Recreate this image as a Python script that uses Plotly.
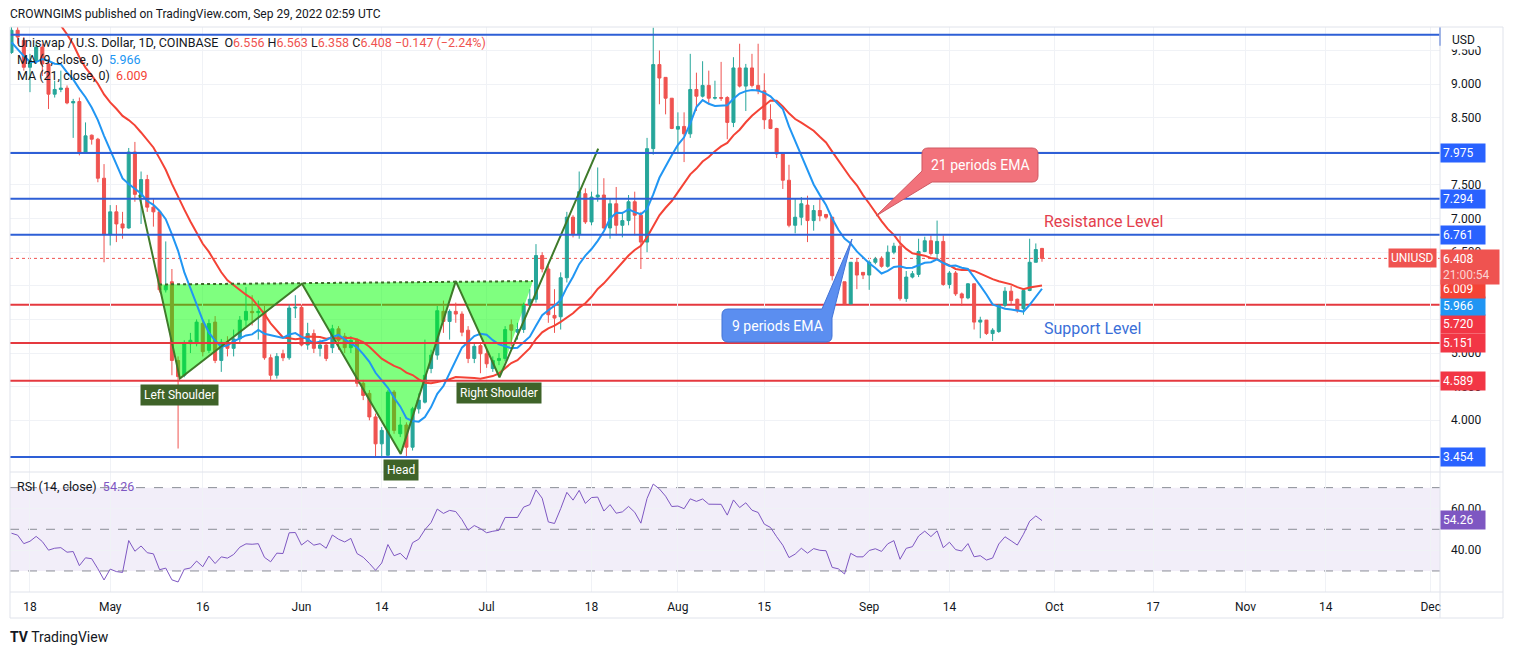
import numpy as np
import pandas as pd
import plotly.graph_objects as go

# ---------------- data ----------------
first_day = "2022-04-15"
opens = [9.47, 9.80, 9.65, 9.25, 9.35, 9.55, 9.30, 8.85, 8.92, 8.94, 8.72, 8.74, 7.99, 8.24, 8.18, 7.60,
         6.76, 7.10, 6.92, 6.86, 7.99, 7.33, 7.58, 7.17, 7.10, 5.94, 6.06, 4.89, 4.67, 5.14, 5.14, 5.44,
         5.04, 5.46, 4.89, 5.16, 5.07, 5.21, 5.49, 5.62, 5.60, 5.62, 4.93, 4.67, 4.99, 4.93, 5.67, 5.68,
         5.12, 5.29, 5.07, 5.12, 5.08, 5.36, 5.25, 5.08, 5.19, 4.55, 4.40, 4.05, 3.65, 3.48, 4.42, 3.80,
         3.93, 3.60, 4.17, 4.27, 4.77, 4.97, 5.62, 5.47, 5.62, 5.58, 5.34, 4.92, 5.11, 4.99, 4.77, 4.89,
         4.92, 5.42, 5.31, 5.35, 5.72, 5.80, 6.45, 6.25, 5.56, 5.54, 6.12, 7.02, 6.77, 7.37, 6.95, 7.32,
         7.35, 6.86, 7.22, 6.90, 6.97, 7.25, 7.05, 6.65, 8.04, 9.29, 9.10, 8.79, 8.33, 8.37, 8.26, 8.92,
         8.82, 8.98, 8.79, 8.80, 8.80, 8.43, 9.24, 8.97, 9.24, 8.98, 8.90, 8.47, 8.34, 7.96, 7.57, 6.90,
         7.02, 7.20, 6.97, 7.12, 7.06, 7.02, 6.15, 6.06, 5.73, 6.35, 6.20, 6.16, 6.35, 6.41, 6.29, 6.50,
         6.59, 5.81, 6.13, 6.17, 6.51, 6.67, 6.48, 6.66, 6.02, 6.19, 5.88, 5.82, 6.03, 5.46, 5.49, 5.29,
         5.32, 5.71, 5.92, 5.80, 5.66, 5.93, 6.35, 6.556]
highs = [9.90, 9.85, 9.70, 9.45, 9.62, 9.60, 9.35, 9.05, 9.20, 8.98, 8.78, 8.80, 8.43, 8.25, 8.20, 7.81,
         7.20, 7.20, 7.10, 8.05, 8.14, 7.70, 7.65, 7.30, 7.10, 6.66, 6.25, 4.95, 5.19, 5.30, 5.50, 5.48,
         5.50, 5.55, 5.21, 5.25, 5.35, 5.55, 5.98, 5.86, 5.78, 5.70, 4.98, 5.00, 5.05, 5.72, 5.86, 5.72,
         5.45, 5.35, 5.20, 5.15, 5.42, 5.40, 5.30, 5.25, 5.22, 4.60, 4.45, 4.10, 3.90, 4.45, 4.45, 4.05,
         3.97, 4.20, 4.40, 5.20, 5.05, 5.70, 5.78, 5.65, 5.75, 5.62, 5.40, 5.15, 5.15, 5.05, 4.95, 5.00,
         5.40, 5.50, 5.45, 5.75, 5.95, 6.62, 6.50, 6.30, 5.95, 6.20, 7.10, 7.05, 7.70, 7.45, 7.40, 7.76,
         7.60, 7.30, 7.47, 7.10, 7.35, 7.40, 7.10, 8.20, 9.84, 9.50, 9.10, 8.79, 8.58, 8.58, 9.45, 9.17,
         9.34, 9.20, 9.05, 9.33, 8.82, 9.40, 9.60, 9.30, 9.45, 9.60, 9.16, 8.70, 8.35, 7.96, 7.80, 7.30,
         7.32, 7.34, 7.20, 7.30, 7.07, 7.02, 6.20, 6.06, 6.35, 6.40, 6.20, 6.38, 6.43, 6.44, 6.60, 6.64,
         6.74, 6.22, 6.22, 6.70, 6.73, 6.75, 6.97, 6.75, 6.22, 6.22, 5.90, 6.04, 6.03, 5.54, 5.49, 5.37,
         5.73, 5.98, 6.00, 5.81, 5.96, 6.70, 6.63, 6.563]
lows = [9.45, 9.60, 9.20, 8.88, 9.30, 9.12, 8.63, 8.80, 8.88, 8.70, 8.20, 7.94, 7.98, 8.10, 7.54, 6.35,
        6.60, 6.65, 6.70, 6.85, 7.25, 6.92, 7.10, 6.88, 5.90, 5.90, 4.67, 3.58, 4.64, 5.00, 5.10, 4.95,
        5.00, 4.85, 4.72, 4.95, 4.95, 5.15, 5.40, 5.41, 5.20, 4.90, 4.60, 4.62, 4.88, 4.90, 5.52, 5.10,
        5.05, 5.00, 4.95, 4.88, 5.00, 5.05, 5.00, 5.00, 4.50, 4.30, 4.00, 3.45, 3.45, 3.45, 3.80, 3.75,
        3.45, 3.55, 4.10, 4.25, 4.70, 4.90, 5.30, 5.20, 5.45, 5.25, 4.85, 4.85, 4.70, 4.78, 4.72, 4.82,
        4.88, 5.10, 5.20, 5.30, 5.70, 5.75, 6.20, 5.45, 5.30, 5.35, 6.05, 6.72, 6.70, 6.92, 6.90, 7.25,
        6.85, 6.70, 6.75, 6.72, 6.90, 6.75, 6.25, 6.50, 7.95, 8.70, 8.55, 8.33, 7.96, 7.84, 8.20, 8.60,
        8.80, 8.70, 8.77, 8.75, 8.18, 8.36, 8.95, 8.60, 8.95, 8.85, 8.33, 8.33, 7.90, 7.44, 6.87, 6.78,
        6.90, 6.65, 6.82, 6.96, 6.99, 6.08, 6.00, 5.73, 5.73, 5.95, 6.10, 5.94, 6.32, 6.27, 6.27, 6.47,
        5.78, 5.76, 6.11, 6.13, 6.50, 6.45, 6.40, 6.00, 5.96, 5.85, 5.70, 5.80, 5.35, 5.22, 5.27, 5.18,
        5.30, 5.68, 5.73, 5.60, 5.57, 5.92, 6.35, 6.358]
closes = [9.80, 9.70, 9.25, 9.35, 9.55, 9.30, 8.85, 8.92, 8.94, 8.72, 8.74, 7.99, 8.23, 8.18, 7.60, 6.76,
          7.10, 6.92, 6.86, 7.99, 7.36, 7.58, 7.17, 7.10, 5.94, 6.00, 4.89, 4.65, 5.14, 5.19, 5.46, 5.02,
          5.44, 4.89, 5.16, 5.07, 5.21, 5.49, 5.62, 5.60, 5.62, 4.93, 4.67, 4.95, 4.93, 5.67, 5.68, 5.12,
          5.29, 5.07, 5.12, 4.92, 5.36, 5.19, 5.08, 5.19, 4.55, 4.37, 4.05, 3.65, 3.85, 4.42, 3.85, 3.93,
          3.60, 4.17, 4.30, 4.67, 4.97, 5.63, 5.47, 5.62, 5.58, 5.31, 4.92, 5.10, 4.99, 4.84, 4.89, 4.92,
          5.35, 5.34, 5.35, 5.71, 5.80, 6.45, 6.25, 5.57, 5.52, 6.12, 7.02, 6.77, 7.40, 6.95, 7.32, 7.35,
          6.86, 7.22, 6.90, 6.97, 7.25, 7.05, 6.65, 8.04, 9.29, 9.09, 8.79, 8.34, 8.37, 8.26, 8.92, 8.82,
          8.98, 8.79, 8.80, 8.79, 8.43, 9.24, 8.97, 9.24, 8.98, 8.90, 8.47, 8.34, 7.96, 7.57, 6.90, 7.02,
          7.22, 6.97, 7.12, 7.04, 7.02, 6.15, 6.06, 5.73, 6.35, 6.16, 6.16, 6.35, 6.40, 6.29, 6.50, 6.59,
          5.81, 6.13, 6.18, 6.51, 6.67, 6.48, 6.66, 6.02, 6.19, 5.88, 5.82, 6.03, 5.46, 5.49, 5.29, 5.34,
          5.71, 5.92, 5.78, 5.63, 5.93, 6.35, 6.54, 6.408]
# closes before the visible window (off-screen), only used to warm up the averages / RSI
prior_closes = [10.4, 10.7, 11.0, 11.6, 11.3, 10.9, 11.0, 11.2, 11.4, 11.9, 12.0, 11.5,
                10.6, 10.2, 10.1, 9.6, 8.9, 9.1, 9.3, 9.0]

blue_levels = [9.735, 7.975, 7.294, 6.761, 3.454]
red_levels = [5.720, 5.151, 4.589]
blue_labels = [7.975, 7.294, 6.761, 3.454]
red_labels = [5.151, 4.589]
last_price = 6.408
ma9_last, ma21_last, rsi_last = 5.966, 6.009, 54.26

# inverse head & shoulders drawing (date, price)
hs_dates = ["2022-05-05 17:00", "2022-05-12 07:00", "2022-06-01 02:00", "2022-06-17 02:00",
            "2022-06-26 00:00", "2022-07-03 02:00", "2022-07-19 02:00"]
hs_prices = [7.35, 4.62, 6.03, 3.50, 6.07, 4.64, 8.04]
hs_fill_dates = ["2022-05-08 22:00", "2022-05-12 07:00", "2022-06-01 02:00", "2022-06-17 02:00",
                 "2022-06-26 00:00", "2022-07-03 02:00", "2022-07-08 12:00"]
hs_fill_prices = [6.02, 4.62, 6.03, 3.50, 6.07, 4.64, 6.07]
neck_dates = ["2022-05-08 22:00", "2022-07-08 12:00"]
neck_prices = [6.02, 6.07]

tick_dates = ["2022-04-18", "2022-05-01", "2022-05-16", "2022-06-01", "2022-06-14", "2022-07-01",
              "2022-07-18", "2022-08-01", "2022-08-15", "2022-09-01", "2022-09-14", "2022-10-01",
              "2022-10-17", "2022-11-01", "2022-11-14", "2022-12-01"]
tick_text = ["18", "May", "16", "Jun", "14", "Jul", "18", "Aug", "15", "Sep", "14", "Oct",
             "17", "Nov", "14", "Dec"]
price_ticks = [4.0, 4.5, 5.0, 5.5, 6.0, 6.5, 7.0, 7.5, 8.0, 8.5, 9.0, 9.5]
hidden_price_ticks = [5.5, 6.0, 8.0]   # covered by the level boxes in the reference
rsi_ticks = [40, 60]

# ---------------- derived series ----------------
dates = pd.date_range(first_day, periods=len(closes), freq="D")
allc = pd.Series(prior_closes + closes, dtype=float)
npre = len(prior_closes)
ma9 = allc.rolling(9).mean().iloc[npre:].values
ma21 = allc.rolling(21).mean().iloc[npre:].values

delta = allc.diff().values
gain = np.where(delta > 0, delta, 0.0)
loss = np.where(delta < 0, -delta, 0.0)
n = 14
ag = np.full(len(allc), np.nan)
al = np.full(len(allc), np.nan)
ag[n] = gain[1:n + 1].mean()
al[n] = loss[1:n + 1].mean()
for i in range(n + 1, len(allc)):
    ag[i] = (ag[i - 1] * (n - 1) + gain[i]) / n
    al[i] = (al[i - 1] * (n - 1) + loss[i]) / n
rsi = (100 - 100 / (1 + ag / al))[npre:]

# ---------------- layout helpers ----------------
W, H = 1514, 655
L, R, T, B = 10, 74, 27, 63
PW, PH = W - L - R, H - T - B
SPLIT = 472  # px y of pane separator


def px(xp, yp):
    return (xp - L) / PW, (H - B - yp) / PH


split_paper = px(0, SPLIT)[1]

RED = "#ef5350"
GREEN = "#26a69a"
LINE_BLUE = "#2e5fd6"
LINE_RED = "#e5393f"
MA9_C = "#2196f3"
MA21_C = "#f44336"
RSI_C = "#7e57c2"
TXT = "#131722"
GRID = "#f0f2f6"
FONT = "Roboto"

fig = go.Figure()

# H&S fill (under candles)
fig.add_trace(go.Scatter(x=hs_fill_dates, y=hs_fill_prices, fill="toself", mode="none",
                         fillcolor="rgba(0,255,0,0.5)", hoverinfo="skip"))

fig.add_trace(go.Candlestick(x=dates, open=opens, high=highs, low=lows, close=closes,
                             increasing=dict(line=dict(color=GREEN, width=1), fillcolor=GREEN),
                             decreasing=dict(line=dict(color=RED, width=1), fillcolor=RED),
                             whiskerwidth=0, hoverinfo="skip"))

fig.add_trace(go.Scatter(x=dates, y=ma21, mode="lines", line=dict(color=MA21_C, width=2), hoverinfo="skip"))
fig.add_trace(go.Scatter(x=dates, y=ma9, mode="lines", line=dict(color=MA9_C, width=2), hoverinfo="skip"))

fig.add_trace(go.Scatter(x=neck_dates, y=neck_prices, mode="lines",
                         line=dict(color="#3d6b28", width=2, dash="dot"), hoverinfo="skip"))
fig.add_trace(go.Scatter(x=hs_dates, y=hs_prices, mode="lines",
                         line=dict(color="#3f7a2a", width=2), hoverinfo="skip"))

# RSI
fig.add_trace(go.Scatter(x=dates, y=rsi, mode="lines", line=dict(color=RSI_C, width=1),
                         xaxis="x", yaxis="y2", hoverinfo="skip"))

shapes = []
# horizontal levels
for v in blue_levels:
    shapes.append(dict(type="line", xref="paper", x0=0, x1=1, yref="y", y0=v, y1=v,
                       line=dict(color=LINE_BLUE, width=2), layer="above"))
for v in red_levels:
    shapes.append(dict(type="line", xref="paper", x0=0, x1=1, yref="y", y0=v, y1=v,
                       line=dict(color=LINE_RED, width=2), layer="below" if v == 5.720 else "above"))
# short vertical tick at the right end of the top line
shapes.append(dict(type="line", xref="paper", x0=1, x1=1, yref="y", y0=9.57, y1=9.85,
                   line=dict(color=LINE_BLUE, width=1.5)))
# last price dotted line
shapes.append(dict(type="line", xref="paper", x0=0, x1=1, yref="y", y0=last_price, y1=last_price,
                   line=dict(color=RED, width=1, dash="dot"), layer="below"))
# RSI band and levels
shapes.append(dict(type="rect", xref="paper", x0=0, x1=1, yref="y2", y0=30, y1=70,
                   fillcolor="rgba(126,87,194,0.1)", line=dict(width=0), layer="below"))
for v in (70, 50, 30):
    shapes.append(dict(type="line", xref="paper", x0=0, x1=1, yref="y2", y0=v, y1=v,
                       line=dict(color="#8a8d96", width=1, dash="dash"), layer="below"))
# frame lines
fx0, fy0 = px(L, T)
fx1, fy1 = px(1503, 618)
axr, _ = px(1440, 0)
_, ybot = px(0, 592)
frame_c = "#e0e3eb"
shapes += [
    dict(type="line", xref="paper", yref="paper", x0=fx0, x1=fx1, y0=fy0, y1=fy0, line=dict(color=frame_c, width=1)),
    dict(type="line", xref="paper", yref="paper", x0=fx0, x1=fx1, y0=fy1, y1=fy1, line=dict(color=frame_c, width=1)),
    dict(type="line", xref="paper", yref="paper", x0=fx0, x1=fx0, y0=fy1, y1=fy0, line=dict(color=frame_c, width=1)),
    dict(type="line", xref="paper", yref="paper", x0=fx1, x1=fx1, y0=fy1, y1=fy0, line=dict(color=frame_c, width=1)),
    dict(type="line", xref="paper", yref="paper", x0=axr, x1=axr, y0=fy1, y1=fy0, line=dict(color=frame_c, width=1)),
    dict(type="line", xref="paper", yref="paper", x0=fx0, x1=fx1, y0=ybot, y1=ybot, line=dict(color=frame_c, width=1)),
    dict(type="line", xref="paper", yref="paper", x0=fx0, x1=fx1, y0=split_paper, y1=split_paper,
         line=dict(color=frame_c, width=1)),
]


def path_px(points):
    parts = []
    for cmd, *pts in points:
        coords = []
        for (xp, yp) in pts:
            a, b = px(xp, yp)
            coords.append(f"{a:.5f},{b:.5f}")
        parts.append(cmd + " " + " ".join(coords))
    return " ".join(parts) + " Z"


# callout "21 periods EMA"
p21 = path_px([("M", (928, 148)), ("L", (1032, 148)), ("Q", (1038, 148), (1038, 154)), ("L", (1038, 176)),
               ("Q", (1038, 182), (1032, 182)), ("L", (932, 182)), ("L", (876, 216)), ("L", (922, 171)),
               ("L", (922, 154)), ("Q", (922, 148), (928, 148))])
shapes.append(dict(type="path", xref="paper", yref="paper", path=p21, fillcolor="#f2727b",
                   line=dict(color="#cf5962", width=1), layer="above"))
p9 = path_px([("M", (728, 309)), ("L", (822, 309)), ("L", (852, 239)), ("L", (832, 318)), ("L", (832, 336)),
              ("Q", (832, 342), (826, 342)), ("L", (728, 342)), ("Q", (722, 342), (722, 336)),
              ("L", (722, 315)), ("Q", (722, 309), (728, 309))])
shapes.append(dict(type="path", xref="paper", yref="paper", path=p9, fillcolor="#5b8ef0",
                   line=dict(color="#4273d6", width=1), layer="above"))

ann = []


def txt(xp, yp, text, size=13, color=TXT, xanchor="left", yanchor="middle", **kw):
    a, b = px(xp, yp)
    d = dict(xref="paper", yref="paper", x=a, y=b, text=text, showarrow=False, xanchor=xanchor,
             yanchor=yanchor, font=dict(family=FONT, size=size, color=color))
    d.update(kw)
    ann.append(d)


txt(8, 14, "CROWNGIMS published on TradingView.com, Sep 29, 2022 02:59 UTC", size=12)
rs = lambda s: f"<span style='color:{RED}'>{s}</span>"
txt(15, 42, "Uniswap / U.S. Dollar, 1D, COINBASE  O" + rs("6.556") + " H" + rs("6.563") + " L" + rs("6.358")
    + " C" + rs("6.408") + " " + rs("−0.147 (−2.24%)"), size=12.5)
txt(15, 59, f"MA (9, close, 0)  <span style='color:{MA9_C}'>{ma9_last:.3f}</span>", size=12.5)
txt(15, 76, f"MA (21, close, 0)  <span style='color:{MA21_C}'>{ma21_last:.3f}</span>", size=12.5)
txt(15, 487, f"RSI (14, close)  <span style='color:{RSI_C}'>{rsi_last:.2f}</span>", size=12.5)
txt(980, 165, "21 periods EMA", size=14, color="white", xanchor="center")
txt(777, 326, "9 periods EMA", size=14, color="white", xanchor="center")
txt(1042, 221, "Resistance Level", size=16, color="#e4404d")
txt(1042, 328, "Support Level", size=16, color="#3a6fd8")
txt(1449, 40, "USD", size=12, bgcolor="white", borderpad=2)
txt(8, 637, "<b>TV</b> TradingView", size=14, color="#131722")

# pattern labels, anchored to the pattern points
for i, lab in ((1, "Left Shoulder"), (3, "Head"), (5, "Right Shoulder")):
    ann.append(dict(x=hs_dates[i], y=hs_prices[i], xref="x", yref="y", text=lab, showarrow=False,
                    yanchor="top", yshift=-5, bgcolor="#3f6329", borderpad=3,
                    font=dict(family=FONT, size=12, color="white")))


def axis_box(v, color, yref="y", text=None, yshift=0, width=40):
    ann.append(dict(xref="paper", x=1, xanchor="left", yref=yref, y=v, yshift=yshift,
                    text=text if text is not None else f"{v:.3f}", showarrow=False,
                    bgcolor=color, borderpad=2, width=width, align="left",
                    font=dict(family=FONT, size=12, color="white")))


for v in blue_labels:
    axis_box(v, "#2962ff")
for v in red_labels:
    axis_box(v, "#f23645")
axis_box(5.720, "#f23645", yshift=-19)
axis_box(5.966, MA9_C, yshift=-18, text=f"{ma9_last:.3f}")
axis_box(6.009, MA21_C, yshift=-4, text=f"{ma21_last:.3f}")
ann.append(dict(xref="paper", x=1, xanchor="left", yref="y", y=last_price, yanchor="top", yshift=9,
                text=f"{last_price:.3f}<br><span style='color:rgba(255,255,255,0.75)'>21:00:54</span>",
                showarrow=False, bgcolor=RED, borderpad=2, width=54, align="left",
                font=dict(family=FONT, size=12, color="white")))
ann.append(dict(xref="paper", x=1, xanchor="right", xshift=-3, yref="y", y=last_price,
                text="UNIUSD", showarrow=False, bgcolor=RED, borderpad=2,
                font=dict(family=FONT, size=12, color="white")))
axis_box(rsi_last, RSI_C, yref="y2", text=f"{rsi_last:.2f}")

fig.update_layout(
    width=W, height=H, margin=dict(l=L, r=R, t=T, b=B),
    paper_bgcolor="white", plot_bgcolor="white", showlegend=False, hovermode=False,
    font=dict(family=FONT, size=12, color=TXT),
    xaxis=dict(type="date", range=["2022-04-14 18:14", "2022-12-02 12:00"], anchor="y2",
               tickvals=tick_dates, ticktext=tick_text, showgrid=True, gridcolor=GRID,
               rangeslider=dict(visible=False), showline=False, zeroline=False, ticks="",
               ticklabelstandoff=6, tickfont=dict(size=12, color=TXT)),
    yaxis=dict(domain=[split_paper, 1], range=[3.231, 9.849], side="right", tickvals=price_ticks,
               ticktext=["" if v in hidden_price_ticks else f"{v:.3f}" for v in price_ticks],
               showgrid=True, gridcolor=GRID,
               zeroline=False, showline=False, ticks="", ticklabelstandoff=10,
               tickfont=dict(size=12, color=TXT)),
    yaxis2=dict(domain=[0, split_paper], range=[19.9, 77.5], side="right", anchor="x",
                tickvals=rsi_ticks, ticktext=[f"{v:.2f}" for v in rsi_ticks], showgrid=True,
                gridcolor=GRID, zeroline=False, showline=False, ticks="", ticklabelstandoff=10,
                tickfont=dict(size=12, color=TXT)),
    shapes=shapes, annotations=ann,
)

fig.write_html("out.html", config={"displayModeBar": False},
               post_script="document.body.style.margin='0px';document.body.style.overflow='hidden';")
